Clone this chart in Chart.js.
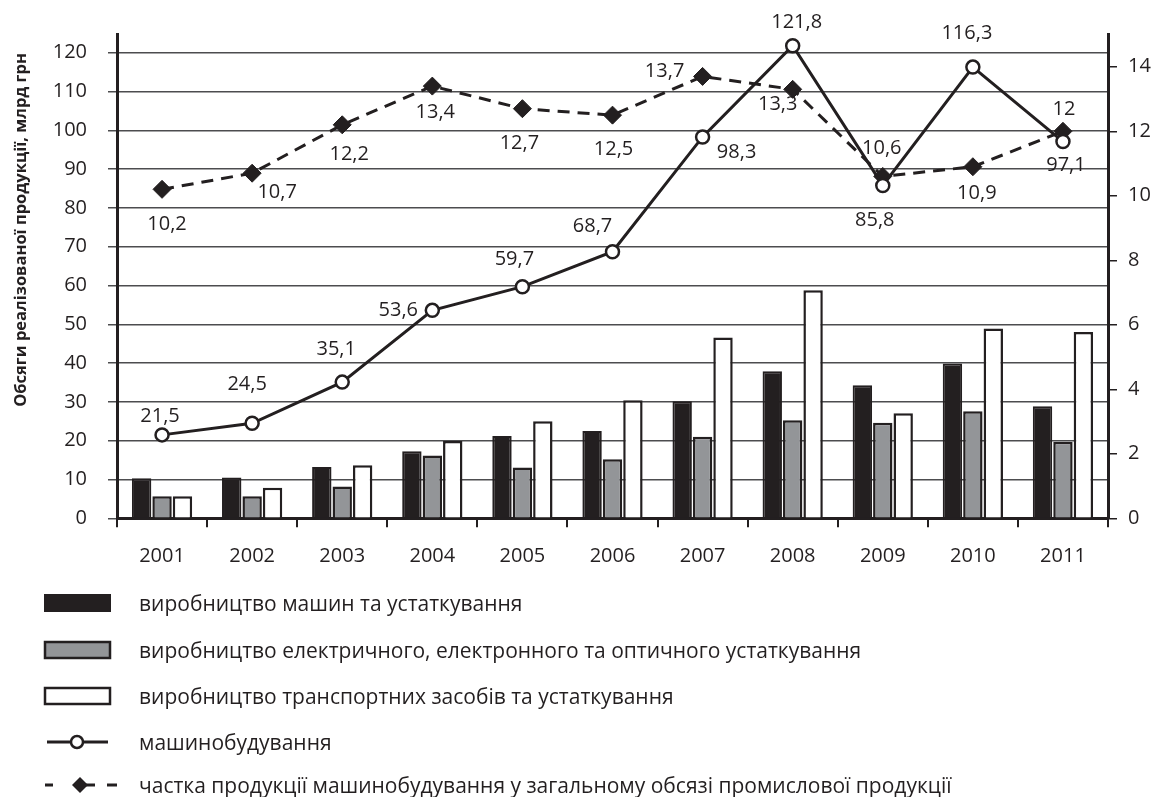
<!DOCTYPE html>
<html><head><meta charset="utf-8">
<script src="https://cdn.jsdelivr.net/npm/chart.js@4.4.1/dist/chart.umd.min.js"></script>
<style>
html,body{margin:0;padding:0;background:#fff;}
#wrap{position:relative;width:1163px;height:797px;overflow:hidden;}
#c{position:absolute;left:0;top:0;}
.row{position:absolute;left:0;height:30px;width:1163px;}
.row svg{position:absolute;left:40px;top:0;}
.row span{position:absolute;left:139px;top:0;line-height:30px;font-family:'Open Sans',sans-serif;font-size:21px;color:#231f20;white-space:nowrap;}
</style></head><body>
<div id="wrap"><canvas id="c" width="1163" height="797"></canvas><div id="legend"></div></div>
<script>
const years = ['2001','2002','2003','2004','2005','2006','2007','2008','2009','2010','2011'];
const machines   = [10.3, 10.5, 13.2, 17.3, 21.2, 22.5, 30.2, 37.9, 34.3, 39.9, 28.9];
const electrical = [5.7, 5.7, 8.2, 16.2, 13.1, 15.2, 21.0, 25.3, 24.6, 27.6, 19.7];
const transport  = [5.7, 7.9, 13.7, 19.9, 25.0, 30.4, 46.6, 58.8, 27.1, 48.9, 48.0];
const engineering = [21.5, 24.5, 35.1, 53.6, 59.7, 68.7, 98.3, 121.8, 85.8, 116.3, 97.1];
const share = [10.2, 10.7, 12.2, 13.4, 12.7, 12.5, 13.7, 13.3, 10.6, 10.9, 12];
const seriesNames = [
  'виробництво машин та устаткування',
  'виробництво електричного, електронного та оптичного устаткування',
  'виробництво транспортних засобів та устаткування',
  'машинобудування',
  'частка продукції машинобудування у загальному обсязі промислової продукції'
];
const axisTitle = 'Обсяги реалізованої продукції, млрд грн';

const INK = '#231f20';
const FONT = "'Open Sans', sans-serif";

// label placement (pixel offsets from the point), layout only
const engOffsets = [[-2,-19],[-5,-39],[-6,-33],[-34,0],[-8,-27],[-20,-25],[34,15],[4,-23],[-8,35],[-6,-34],[3,24]];
const shareOffsets = [[5,35],[25,19],[7,29],[3,26],[-3,35],[1,34],[-38,-5],[-15,15],[-1,-28],[4,27],[1,-22]];

const fmt = v => String(v).replace('.', ',');

const labelPlugin = {
  id: 'labels',
  afterDatasetsDraw(chart) {
    const ctx = chart.ctx;
    ctx.save();
    ctx.font = '20px ' + FONT;
    ctx.fillStyle = INK;
    ctx.textAlign = 'center';
    ctx.textBaseline = 'middle';
    const put = (dsIndex, vals, offs) => {
      const meta = chart.getDatasetMeta(dsIndex);
      meta.data.forEach((p, i) => {
        ctx.fillText(fmt(vals[i]), p.x + offs[i][0], p.y + offs[i][1]);
      });
    };
    put(3, engineering, engOffsets);
    put(4, share, shareOffsets);
    ctx.restore();
  },
  afterDraw(chart) {
    const ctx = chart.ctx;
    ctx.save();
    ctx.translate(21, 230);
    ctx.rotate(-Math.PI / 2);
    ctx.font = 'bold 16.5px ' + FONT;
    ctx.fillStyle = INK;
    ctx.textAlign = 'center';
    ctx.textBaseline = 'middle';
    ctx.fillText(axisTitle, 0, 0);
    ctx.restore();
  }
};

new Chart(document.getElementById('c'), {
  type: 'bar',
  data: {
    labels: years,
    datasets: [
      { label: seriesNames[0], data: machines, backgroundColor: INK, borderColor: INK, borderWidth: 2, yAxisID: 'y', order: 3, barPercentage: 0.95, categoryPercentage: 0.68 },
      { label: seriesNames[1], data: electrical, backgroundColor: '#939598', borderColor: INK, borderWidth: 2.5, yAxisID: 'y', order: 3, barPercentage: 0.95, categoryPercentage: 0.68 },
      { label: seriesNames[2], data: transport, backgroundColor: '#ffffff', borderColor: INK, borderWidth: 2.5, yAxisID: 'y', order: 3, barPercentage: 0.95, categoryPercentage: 0.68 },
      { type: 'line', label: seriesNames[3], data: engineering, yAxisID: 'y', order: 0,
        borderColor: INK, borderWidth: 3, tension: 0, pointStyle: 'circle', pointRadius: 6.5,
        pointBackgroundColor: '#ffffff', pointBorderColor: INK, pointBorderWidth: 2.5 },
      { type: 'line', label: seriesNames[4], data: share, yAxisID: 'y1', order: 1,
        borderColor: INK, borderWidth: 3, borderDash: [12, 8], tension: 0, pointStyle: 'rectRot', pointRadius: 9,
        pointBackgroundColor: INK, pointBorderColor: INK, pointBorderWidth: 1 }
    ]
  },
  options: {
    responsive: false,
    animation: false,
    devicePixelRatio: 1,
    layout: { padding: { top: 34.5, bottom: 233.7, left: 0, right: 0 } },
    plugins: { legend: { display: false }, tooltip: { enabled: false } },
    scales: {
      x: {
        offset: true,
        grid: { offset: true, drawOnChartArea: false, drawTicks: true, tickLength: 9, color: INK, lineWidth: 2 },
        border: { display: true, color: INK, width: 3 },
        ticks: { font: { family: FONT, size: 20 }, color: INK, padding: 17 },
        afterFit: s => { s.height = 45; }
      },
      y: {
        position: 'left', min: 0, max: 124.7,
        grid: { color: '#4d4d4f', lineWidth: 1.5, tickLength: 9, drawTicks: true },
        border: { display: true, color: INK, width: 3 },
        ticks: { stepSize: 10, includeBounds: false, font: { family: FONT, size: 20 }, color: INK, padding: 21 },
        afterFit: s => { s.width = 117; }
      },
      y1: {
        position: 'right', min: 0, max: 15,
        grid: { drawOnChartArea: false, color: INK, lineWidth: 1.5, tickLength: 9 },
        border: { display: true, color: INK, width: 3 },
        ticks: { stepSize: 2, includeBounds: false, font: { family: FONT, size: 20 }, color: INK, padding: 11 },
        afterFit: s => { s.width = 55; }
      }
    }
  },
  plugins: [labelPlugin]
});

// HTML legend
const icons = [
  '<svg width="80" height="30"><rect x="4" y="6" width="67" height="18" fill="#231f20"/></svg>',
  '<svg width="80" height="30"><rect x="5" y="7" width="65" height="16" fill="#939598" stroke="#231f20" stroke-width="2.5"/></svg>',
  '<svg width="80" height="30"><rect x="5" y="7" width="65" height="16" fill="#ffffff" stroke="#231f20" stroke-width="2.5"/></svg>',
  '<svg width="80" height="30"><line x1="7" y1="15" x2="68" y2="15" stroke="#231f20" stroke-width="3"/><circle cx="37" cy="15" r="6" fill="#fff" stroke="#231f20" stroke-width="2.5"/></svg>',
  '<svg width="80" height="30"><line x1="5" y1="15" x2="13" y2="15" stroke="#231f20" stroke-width="3"/><line x1="46" y1="15" x2="55" y2="15" stroke="#231f20" stroke-width="3"/><line x1="67" y1="15" x2="77" y2="15" stroke="#231f20" stroke-width="3"/><polygon points="40,7 48,15 40,23 32,15" fill="#231f20"/></svg>'
];
const rowCenters = [603, 650, 696, 742, 785];
const leg = document.getElementById('legend');
seriesNames.forEach((n, i) => {
  const r = document.createElement('div');
  r.className = 'row';
  r.style.top = (rowCenters[i] - 15) + 'px';
  r.innerHTML = icons[i] + '<span>' + n + '</span>';
  leg.appendChild(r);
});
</script>
</body></html>
